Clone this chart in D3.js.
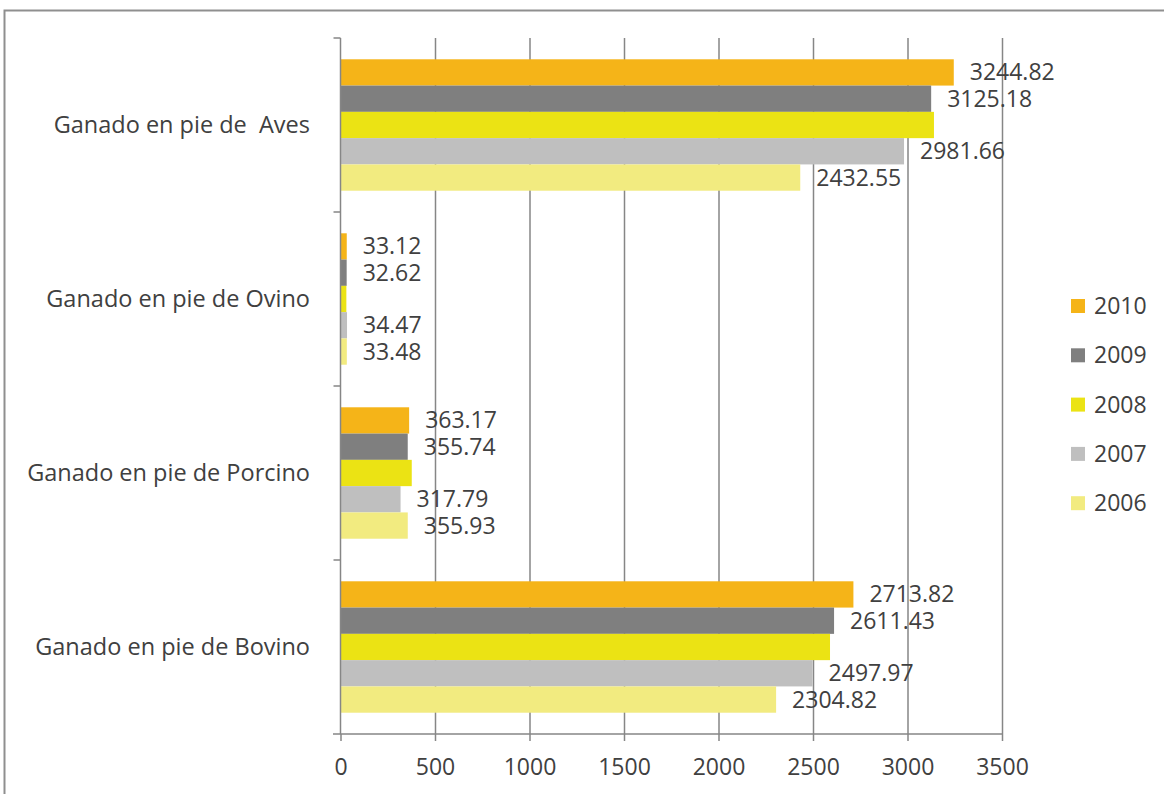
<!DOCTYPE html>
<html><head><meta charset="utf-8">
<script src="https://cdn.jsdelivr.net/npm/d3@7"></script>
<style>
html,body{margin:0;padding:0;background:#fff;}
svg{display:block;}
text{font-family:"Open Sans",sans-serif;fill:#404040;}
</style></head>
<body>
<svg id="chart" width="1164" height="794"></svg>
<script>
const categories = ["Ganado en pie de  Aves","Ganado en pie de Ovino","Ganado en pie de Porcino","Ganado en pie de Bovino"];
const years = ["2010","2009","2008","2007","2006"];
const values2010 = [3244.82, 33.12, 363.17, 2713.82];
const values2009 = [3125.18, 32.62, 355.74, 2611.43];
const values2008 = [3140, 31, 377, 2590];
const values2007 = [2981.66, 34.47, 317.79, 2497.97];
const values2006 = [2432.55, 33.48, 355.93, 2304.82];
const labelShown = [true, true, false, true, true];
const colors = ["#F5B418", "#7F7F7F", "#EBE314", "#BFBFBF", "#F2EB80"];
const xTicks = [0, 500, 1000, 1500, 2000, 2500, 3000, 3500];

const seriesValues = [values2010, values2009, values2008, values2007, values2006];
const series = years.map((y, i) => ({year: y, color: colors[i], label: labelShown[i], values: seriesValues[i]}));

const svg = d3.select("#chart");
const gridColor = "#868686";

// outer frame
svg.append("path").attr("d", "M4.5,794 V10.5 H1164")
  .attr("fill", "none").attr("stroke", "#8f8f8f").attr("stroke-width", 2);

const x = d3.scaleLinear().domain([0, 3500]).range([340.5, 1002]);
const y = d3.scaleBand().domain(categories).range([38, 734]).padding(0);
const yi = d3.scaleBand().domain(years).range([0, y.bandwidth()]).paddingInner(0).paddingOuter(0.81);

// gridlines
svg.append("g").attr("transform", "translate(0,734)")
  .call(d3.axisBottom(x).tickValues(xTicks.slice(1)).tickSize(-696).tickFormat(""))
  .call(g => g.select(".domain").remove())
  .call(g => g.selectAll("line").attr("stroke", gridColor).attr("stroke-width", 1.5));

// bars
const groups = svg.append("g").selectAll("g").data(series).join("g").attr("fill", d => d.color);
groups.selectAll("rect").data(d => d.values.map((v, j) => ({v, cat: categories[j], year: d.year})))
  .join("rect")
  .attr("x", x(0))
  .attr("y", d => y(d.cat) + yi(d.year))
  .attr("width", d => x(d.v) - x(0))
  .attr("height", yi.bandwidth());

// data labels
const lbl = svg.append("g");
series.filter(s => s.label).forEach(s => {
  lbl.selectAll(null).data(s.values.map((v, j) => ({v, cat: categories[j], year: s.year})))
    .join("text")
    .attr("x", d => x(d.v) + 16)
    .attr("y", d => y(d.cat) + yi(d.year) + yi.bandwidth() / 2)
    .attr("dy", "0.35em")
    .style("font-size", "23px")
    .text(d => d.v.toFixed(2));
});

// x axis
const xa = svg.append("g").attr("transform", "translate(0,734)")
  .call(d3.axisBottom(x).tickValues(xTicks).tickSize(7).tickPadding(18).tickSizeOuter(0).tickFormat(d3.format("d")));
xa.select(".domain").remove();
xa.append("line").attr("x1", 333).attr("x2", 1002).attr("stroke", gridColor).attr("stroke-width", 1.5);
xa.selectAll(".tick line").attr("stroke", gridColor).attr("stroke-width", 1.5);
xa.selectAll("text").style("font-size", "23px").style("font-family", "'Open Sans',sans-serif").attr("fill", "#404040");

// y axis
const ya = svg.append("g");
ya.append("line").attr("x1", x(0)).attr("x2", x(0)).attr("y1", 38).attr("y2", 734)
  .attr("stroke", gridColor).attr("stroke-width", 1.5);
ya.selectAll("line.t").data(categories).join("line").attr("class", "t")
  .attr("x1", x(0) - 7).attr("x2", x(0)).attr("y1", d => y(d)).attr("y2", d => y(d))
  .attr("stroke", gridColor).attr("stroke-width", 1.5);
ya.selectAll("text").data(categories).join("text")
  .attr("x", 310).attr("y", d => y(d) + y.bandwidth() / 2).attr("dy", "0.35em")
  .attr("text-anchor", "end").style("font-size", "23.5px").style("white-space", "pre")
  .text(d => d);

// legend
const lg = svg.append("g").selectAll("g").data(series).join("g")
  .attr("transform", (d, i) => `translate(1071,${306 + i * 49.3})`);
lg.append("rect").attr("x", 0).attr("y", -7).attr("width", 14).attr("height", 14).attr("fill", d => d.color);
lg.append("text").attr("x", 23).attr("dy", "0.35em").style("font-size", "23px").text(d => d.year);
</script>
</body></html>
